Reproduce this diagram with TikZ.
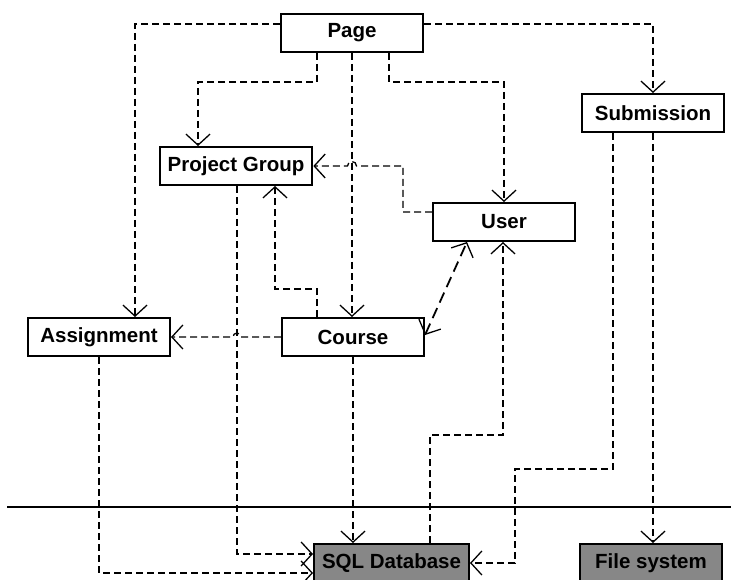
\documentclass[tikz,border=0pt]{standalone}
\usepackage{fontspec}
\setmainfont{Liberation Sans}
\usetikzlibrary{arrows.meta}

\tikzset{
  entity/.style={draw, line width=2pt, minimum width=142pt, minimum height=38pt,
    inner xsep=8pt, font=\fontsize{20.5}{24}\selectfont\bfseries},
  store/.style={entity, fill=black!47},
  dep/.style={dash pattern=on 7pt off 4pt, line width=1.3pt,
    -{Straight Barb[length=11pt,width=24pt]}},
  assoc/.style={dash pattern=on 11pt off 6pt, line width=1.8pt,
    {Straight Barb[length=11pt,width=24pt,line width=1.3pt]}-{Straight Barb[length=11pt,width=24pt,line width=1.3pt]}}
}

\begin{document}
\begin{tikzpicture}[x=1pt,y=1pt]
  \useasboundingbox (0,0) rectangle (731,-580);

  % Classes
  \node[entity] (page)   at (352,-33)  {Page};
  \node[entity] (pgroup) at (236,-166) {Project Group};
  \node[entity] (subm)   at (653,-113) {Submission};
  \node[entity] (user)   at (504,-222) {User};
  \node[entity] (assign) at (99,-337)  {Assignment};
  \node[entity] (course) at (353,-337) {Course};

  % Storage
  \node[store] (sqldb) at (391.5,-563) {SQL Database};
  \node[store] (files) at (651,-563)   {File system};

  % Tier boundary
  \draw[line width=1.6pt] (7,-507) -- (731,-507);

  % Dependencies from Page
  \draw[dep] ([yshift=9pt]page.west) -| ([xshift=36pt]assign.north);
  \draw[dep] ([yshift=9pt]page.east) -| (subm.north);
  \draw[dep] ([xshift=-35pt]page.south) -- ++(0,-29) -| ([xshift=-38pt]pgroup.north);
  \draw[dep] (page.south) -- (page.south |- course.north);
  \draw[dep] ([xshift=37pt]page.south) -- ++(0,-29) -| (user.north);

  % Dependencies between classes
  \draw[dep] ([yshift=10pt]user.west) -- (403,-212) -- (403,-166) -- (356.5,-166)
    arc[start angle=0,end angle=180,radius=4.5] -- (pgroup.east);
  \draw[dep] ([xshift=-36pt]course.north) -- ++(0,28) -| ([xshift=39pt]pgroup.south);
  \draw[dep] (course.west) -- (241,-337)
    arc[start angle=0,end angle=180,radius=4] -- (assign.east);
  \draw[assoc] ([yshift=2pt]course.east) -- ([xshift=-37pt]user.south);

  % Dependencies on storage
  \draw[dep] (assign.south) |- ([yshift=-10pt]sqldb.west);
  \draw[dep] ([xshift=1pt]pgroup.south) |- ([yshift=9pt]sqldb.west);
  \draw[dep] (course.south) -- (course.south |- sqldb.north);
  \draw[dep] ([xshift=38.5pt]sqldb.north) -- ++(0,108) -| ([xshift=-1pt]user.south);
  \draw[dep] ([xshift=-40pt]subm.south) -- (613,-469) -- (515,-469) |- (sqldb.east);
  \draw[dep] (subm.south) -- (subm.south |- files.north);
\end{tikzpicture}
\end{document}
